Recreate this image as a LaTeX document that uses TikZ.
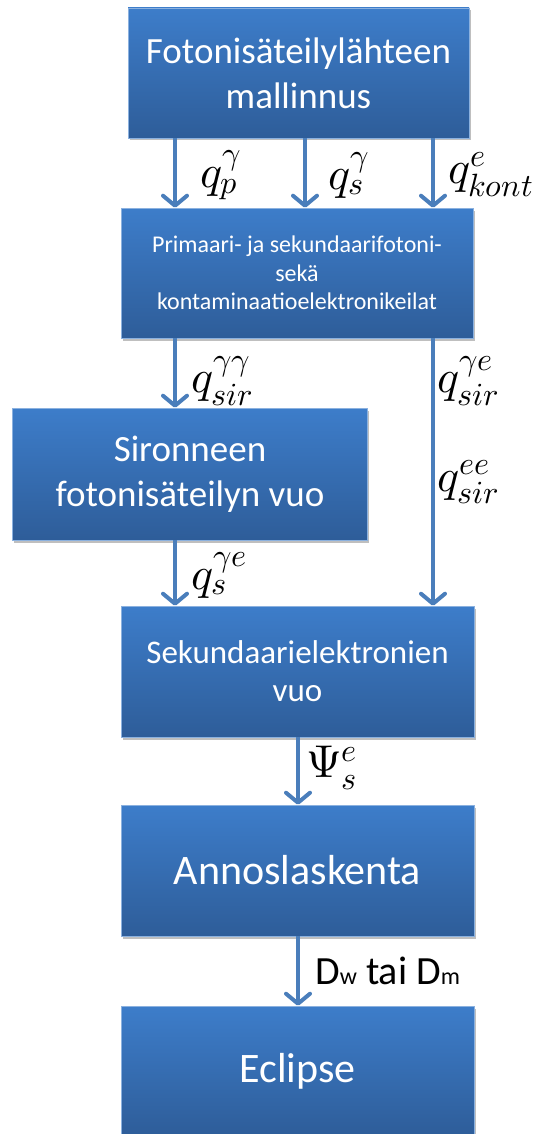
\documentclass[tikz,border=0pt]{standalone}
\usepackage{fontspec}
\usepackage{unicode-math}
\setmainfont{Carlito}
\setmathfont{Latin Modern Math}
\usetikzlibrary{arrows.meta,shadows}
\definecolor{boxtop}{RGB}{61,125,202}
\definecolor{boxbot}{RGB}{46,93,153}
\definecolor{flow}{RGB}{74,126,187}
\begin{document}
\begin{tikzpicture}[x=1pt,y=-1pt,
  block/.style={rectangle, inner sep=0pt, top color=boxtop, bottom color=boxbot,
    draw=boxtop!60!white, line width=0.6pt, text=white, align=center,
    drop shadow={shadow xshift=1.5pt, shadow yshift=-2.5pt, fill=black, opacity=0.25}},
  flowarrow/.style={draw=flow, line width=4pt,
    -{Straight Barb[length=10pt, width=24pt, round]}},
  lbl/.style={anchor=west, inner sep=0pt, font=\fontsize{46}{48}\selectfont}
]
\useasboundingbox (0,0) rectangle (545,1134);

% columns of the connectors
\coordinate (c1) at (175,0);
\coordinate (c2) at (305,0);
\coordinate (c3) at (433,0);
\coordinate (c4) at (298,0);

% process boxes
\node[block, minimum width=341pt, minimum height=130pt, font=\fontsize{37}{45}\selectfont]
  (src) at (298.5,73) {Fotonisäteilylähteen\\mallinnus};
\node[block, minimum width=352pt, minimum height=130pt, font=\fontsize{24}{28.5}\selectfont]
  (beams) at (297,273) {Primaari- ja sekundaarifotoni-\\sekä\\kontaminaatioelektronikeilat};
\node[block, minimum width=355pt, minimum height=132pt, font=\fontsize{37}{45}\selectfont]
  (scat) at (190,474) {Sironneen\\fotonisäteilyn vuo};
\node[block, minimum width=353pt, minimum height=131pt, font=\fontsize{33}{38}\selectfont]
  (sec) at (297.5,671.5) {Sekundaarielektronien\\vuo};
\node[block, minimum width=353pt, minimum height=131pt, font=\fontsize{42}{50}\selectfont]
  (dose) at (297.5,870.5) {Annoslaskenta};
\node[block, minimum width=353pt, minimum height=130pt, font=\fontsize{42}{50}\selectfont]
  (ecl) at (297.5,1071) {Eclipse};

% connectors
\draw[flowarrow] (src.south -| c1) -- (beams.north -| c1);
\draw[flowarrow] (src.south -| c2) -- (beams.north -| c2);
\draw[flowarrow] (src.south -| c3) -- (beams.north -| c3);
\draw[flowarrow] (beams.south -| c1) -- (scat.north -| c1);
\draw[flowarrow] (beams.south -| c3) -- (sec.north -| c3);
\draw[flowarrow] (scat.south -| c1) -- (sec.north -| c1);
\draw[flowarrow] (sec.south -| c4) -- (dose.north -| c4);
\draw[flowarrow] (dose.south -| c4) -- (ecl.north -| c4);

% connector labels
\node[lbl] (lqp) at (200,175) {$q_p^{\gamma}$};
\node[lbl] (lqs) at (328,175) {$q_s^{\gamma}$};
\node[lbl] (lqk) at (448,175) {$q_{kont}^{e}$};
\node[lbl] (lqgg) at (191,381) {$q_{sir}^{\gamma\gamma}$};
\node[lbl] (lqge) at (437,381) {$q_{sir}^{\gamma e}$};
\node[lbl] (lqee) at (437,482) {$q_{sir}^{ee}$};
\node[lbl] (lqsge) at (191,575) {$q_{s}^{\gamma e}$};
\node[lbl] (lpsi) at (306,768) {$\Psi_s^{e}$};
\node[anchor=west, inner sep=0pt, font=\fontsize{40}{44}\selectfont] (ldw) at (315,971)
  {D{\fontsize{24}{26}\selectfont w} tai D{\fontsize{24}{26}\selectfont m}};
\end{tikzpicture}
\end{document}
